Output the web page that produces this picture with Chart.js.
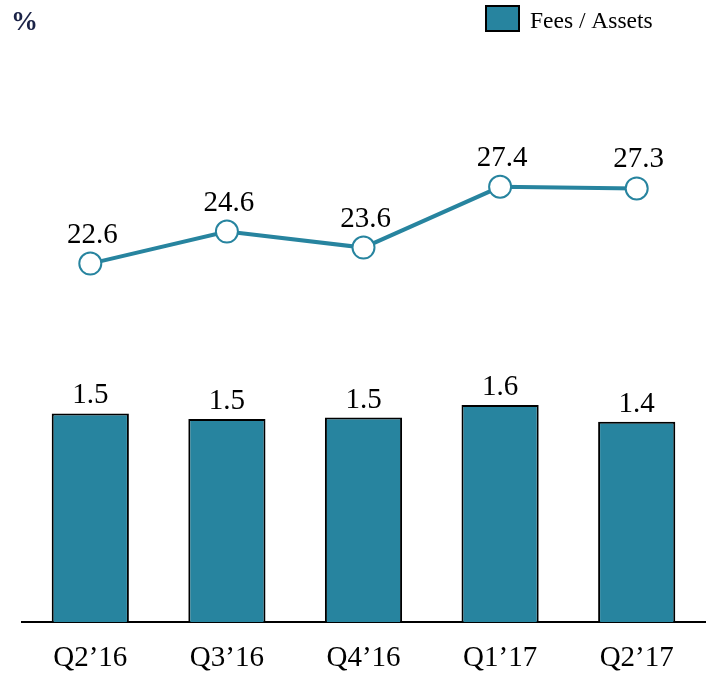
<!DOCTYPE html>
<html>
<head>
<meta charset="utf-8">
<script src="https://cdn.jsdelivr.net/npm/chart.js@4/dist/chart.umd.min.js"></script>
<style>
  html, body { margin: 0; padding: 0; background: #fff; }
  #wrap { width: 722px; height: 675px; position: relative; }
</style>
</head>
<body>
<div id="wrap"><canvas id="grafico"></canvas></div>
<script>
const quarters = ['Q2\u201916', 'Q3\u201916', 'Q4\u201916', 'Q1\u201917', 'Q2\u201917'];
const feesAssets = [1.50, 1.46, 1.47, 1.56, 1.44];
const lineValues = [22.6, 24.6, 23.6, 27.4, 27.3];

const teal = '#27849f';
const serif = "'Liberation Serif', 'Times New Roman', serif";

// value labels above bars and points, plus the legend and the "%" unit
const labelsPlugin = {
    id: 'labelsPlugin',
    afterDatasetsDraw(chart) {
        const ctx = chart.ctx;
        ctx.save();
        ctx.fillStyle = '#000';
        ctx.font = '29px ' + serif;
        ctx.textAlign = 'center';
        ctx.textBaseline = 'alphabetic';

        chart.getDatasetMeta(1).data.forEach((bar, i) => {
            ctx.fillText(feesAssets[i].toFixed(1), bar.x, bar.y - 10);
        });
        chart.getDatasetMeta(0).data.forEach((pt, i) => {
            ctx.fillText(lineValues[i].toFixed(1), pt.x + 2, pt.y - 21);
        });

        // unit
        ctx.textAlign = 'left';
        ctx.fillStyle = '#1b2347';
        ctx.font = 'bold 27px ' + serif;
        ctx.fillText('%', 11, 30);

        // legend
        ctx.fillStyle = teal;
        ctx.fillRect(486, 6, 33, 25);
        ctx.strokeStyle = '#000';
        ctx.lineWidth = 2;
        ctx.strokeRect(486, 6, 33, 25);
        ctx.fillStyle = '#000';
        ctx.font = '23.5px ' + serif;
        ctx.fillText(chart.data.datasets[1].label, 530, 28);
        ctx.restore();
    }
};

new Chart(document.getElementById('grafico'), {
    data: {
        labels: quarters,
        datasets: [{
            type: 'line',
            label: 'Ratio',
            data: lineValues,
            yAxisID: 'yLine',
            borderColor: teal,
            borderWidth: 4,
            pointRadius: 11,
            pointBorderWidth: 2,
            pointBackgroundColor: '#fff',
            pointBorderColor: teal,
            tension: 0
        }, {
            type: 'bar',
            label: 'Fees / Assets',
            data: feesAssets,
            yAxisID: 'yBar',
            backgroundColor: teal,
            borderColor: '#000',
            borderWidth: 2,
            borderSkipped: 'bottom',
            barPercentage: 0.565,
            categoryPercentage: 1
        }]
    },
    options: {
        responsive: true,
        maintainAspectRatio: false,
        animation: false,
        layout: { padding: { top: 38, left: 22, right: 17, bottom: 2 } },
        plugins: {
            legend: { display: false },
            tooltip: { enabled: false }
        },
        scales: {
            x: {
                offset: true,
                grid: { display: false, drawTicks: false },
                border: { display: true, color: '#000', width: 2 },
                ticks: { color: '#000', font: { family: serif, size: 29 }, padding: 19 },
                afterFit: (scale) => { scale.height = 51; }
            },
            yBar: { display: false, min: 0, max: 4.2 },
            yLine: { display: false, min: 0.2, max: 36.7 }
        }
    },
    plugins: [labelsPlugin]
});
</script>
</body>
</html>
